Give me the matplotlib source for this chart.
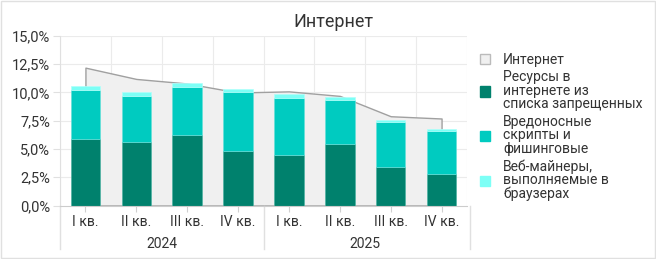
import numpy as np
import matplotlib
matplotlib.use('Agg')
import matplotlib.pyplot as plt
from matplotlib.patches import Patch, Rectangle
from matplotlib.ticker import FuncFormatter

plt.rcParams['font.family'] = ['Roboto', 'DejaVu Sans']

# ---- данные ----
quarters = ['I кв.', 'II кв.', 'III кв.', 'IV кв.', 'I кв.', 'II кв.', 'III кв.', 'IV кв.']
years = ['2024', '2025']
internet = [12.2, 11.2, 10.8, 10.0, 10.1, 9.7, 7.9, 7.7]
blocked = [5.9, 5.65, 6.2, 4.8, 4.5, 5.4, 3.45, 2.75]
scripts = [4.3, 4.0, 4.3, 5.2, 5.0, 3.9, 3.95, 3.85]
miners = [0.4, 0.35, 0.3, 0.3, 0.4, 0.3, 0.15, 0.15]

labels = ['Интернет',
          'Ресурсы в\nинтернете из\nсписка запрещенных',
          'Вредоносные\nскрипты и\nфишинговые',
          'Веб-майнеры,\nвыполняемые в\nбраузерах']

C_AREA = '#f0f0f0'
C_LINE = '#a0a0a0'
C_DARK = '#00816d'
C_TEAL = '#00cbc0'
C_LIGHT = '#7dfff6'
GRID = '#ebebeb'
TXT = '#333333'

fig = plt.figure(figsize=(6.56, 2.59), dpi=100)
ax = fig.add_axes([60 / 656, 1 - 205.5 / 259, 407 / 656, 169.5 / 259])

x = np.arange(len(quarters))
w = 0.58

ax.fill_between(x, internet, 0, facecolor=C_AREA, edgecolor=C_LINE,
                linewidth=1.0, zorder=2)

b1 = np.array(blocked)
b2 = b1 + np.array(scripts)
ax.bar(x, blocked, w, color=C_DARK, edgecolor='#4fb3a3', linewidth=0.5, zorder=3)
ax.bar(x, scripts, w, bottom=b1, color=C_TEAL, edgecolor='#66e0d9', linewidth=0.5, zorder=3)
ax.bar(x, miners, w, bottom=b2, color=C_LIGHT, edgecolor='#b0fffa', linewidth=0.5, zorder=3)

ax.set_xlim(-0.5, len(quarters) - 0.5)
ax.set_ylim(0, 15)
ax.set_yticks(np.arange(0, 15.1, 2.5))
ax.yaxis.set_major_formatter(FuncFormatter(lambda v, p: f'{v:.1f}%'.replace('.', ',')))

# сетка: вертикальные линии по границам категорий
for xb in np.arange(-0.5, len(quarters), 1.0):
    ax.axvline(xb, color=GRID, linewidth=0.8, zorder=1)
for yv in np.arange(2.5, 15.1, 2.5):
    ax.axhline(yv, color=GRID, linewidth=0.8, zorder=1)

ax.set_xticks(x)
ax.set_xticklabels(quarters, fontsize=10, color=TXT)
ax.tick_params(axis='x', length=4, color='#d0d0d0', pad=3)
ax.tick_params(axis='y', length=5, color='#e0e0e0', labelsize=10.5, labelcolor=TXT, pad=2)

for s in ['top', 'right']:
    ax.spines[s].set_visible(False)
ax.spines['left'].set_color('#e0e0e0')
ax.spines['bottom'].set_color('#cccccc')
ax.spines['bottom'].set_zorder(4)

# группы по годам
trans = ax.get_xaxis_transform()
for xb in [-0.5, 3.5, 7.56]:
    ax.plot([xb, xb], [0, -0.257], transform=trans, color='#e0e0e0',
            linewidth=1.0, clip_on=False)
for i, yr in enumerate(years):
    ax.text(1.5 + 4 * i, -0.225, yr, transform=trans, ha='center', va='center',
            fontsize=10, color=TXT)

fig.text(333 / 656, 1 - 22 / 259, 'Интернет', ha='center', va='center',
         fontsize=13, color=TXT)

handles = [Patch(facecolor=C_AREA, edgecolor='#bbbbbb', linewidth=1.0),
           Patch(facecolor=C_DARK, edgecolor=C_DARK),
           Patch(facecolor=C_TEAL, edgecolor=C_TEAL),
           Patch(facecolor=C_LIGHT, edgecolor=C_LIGHT)]
leg = fig.legend(handles, labels, loc='upper left', bbox_to_anchor=(480 / 656, 1 - 53 / 259),
                 frameon=False, fontsize=10, handlelength=0.75, handleheight=0.75,
                 handletextpad=0.9, labelspacing=0.25, borderaxespad=0, borderpad=0)
for t in leg.get_texts():
    t.set_color(TXT)
    t.set_linespacing(0.95)

fig.patches.append(Rectangle((0.001, 0.003), 0.997, 0.994, transform=fig.transFigure,
                             fill=False, edgecolor='#e0e0e0', linewidth=1.0))

fig.savefig('out.png', dpi=100)
